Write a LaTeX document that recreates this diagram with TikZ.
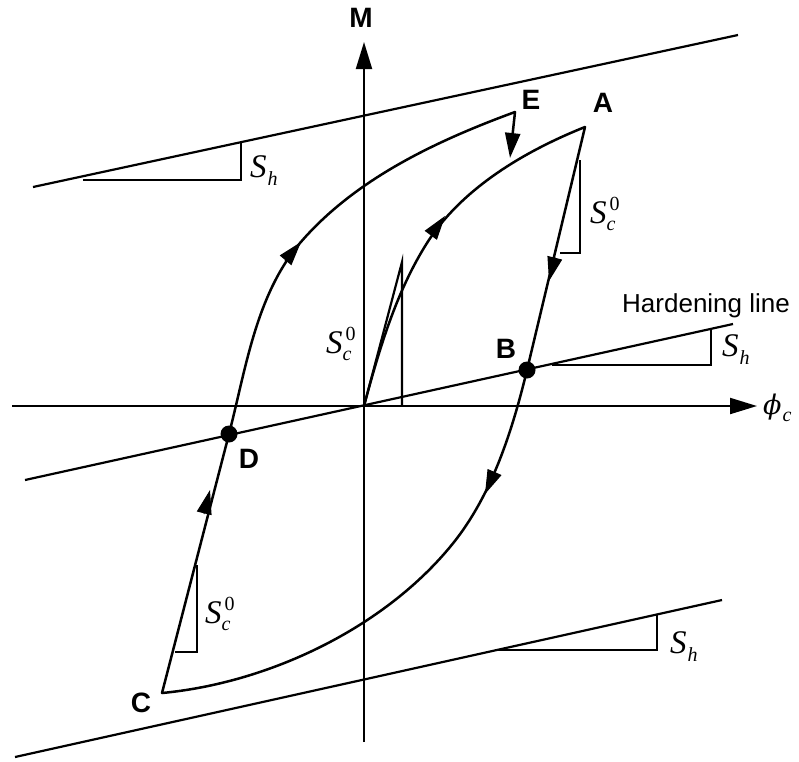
\documentclass[tikz,border=0pt]{standalone}
\usepackage{fontspec}
\setmainfont{Liberation Sans}
\newfontfamily\tms{Liberation Serif}
\newfontfamily\djv{DejaVu Serif}
\usetikzlibrary{arrows.meta}
\newcommand{\lblSh}{{\tms\itshape\fontsize{33}{33}\selectfont S\kern1pt\raisebox{-8pt}{\fontsize{20}{20}\selectfont h}}}
\newcommand{\lblSc}{{\tms\itshape\fontsize{33}{33}\selectfont S\rlap{\kern3pt\raisebox{13pt}{\upshape\fontsize{20}{20}\selectfont 0}}\raisebox{-7pt}{\fontsize{20}{20}\selectfont c}}}
\newcommand{\lblPhi}{{\djv\itshape\fontsize{27}{27}\selectfont ϕ}\kern1pt\raisebox{-7pt}{\tms\itshape\fontsize{20}{20}\selectfont c}}
\begin{document}
\begin{tikzpicture}[x=1pt,y=-1pt,
  crv/.style={line width=2.5pt,line cap=round,line join=round},
  ln/.style={line width=2.2pt},
  tri/.style={line width=2.2pt},
  ax/.style={line width=2pt,-{Triangle[length=27pt,width=16pt]}},
  ahd/.style={-{Triangle[length=24pt,width=15pt]}, line width=1pt},
  dot/.style={circle,fill,inner sep=0pt,minimum size=17pt},
  lbl/.style={font=\fontsize{28}{28}\selectfont\bfseries,inner sep=0pt},
  mlbl/.style={inner sep=0pt,anchor=base west}]
\useasboundingbox (0,0) rectangle (799,761);
% key points
\coordinate (O) at (364,406);
\coordinate (A) at (585,127);
\coordinate (B) at (527,370);
\coordinate (C) at (162,693);
\coordinate (D) at (229,434);
\coordinate (E) at (515,112);
\coordinate (Etip) at (510,158);
\coordinate (M1) at (300,243);
\coordinate (M2) at (427,243);
\coordinate (M3) at (450,547);
% axes
\coordinate (xs) at (12,406);
\coordinate (xe) at (757,406);
\coordinate (ys) at (364,742);
\coordinate (ye) at (364,42);
\draw[ax] (xs) -- (xe);
\draw[ax] (ys) -- (ye);
% hardening lines
\coordinate (h1) at (25,480);
\coordinate (h2) at (733,324);
\draw[ln] (h1) -- (h2);
\coordinate (t1) at (33,187);
\coordinate (t2) at (738,35);
\draw[ln] (t1) -- (t2);
\coordinate (b1) at (15,757);
\coordinate (b2) at (722,600);
\draw[ln] (b1) -- (b2);
% slope triangles S_h
\draw[tri] (83,180) -- (241,180) -- (241,142);
\draw[tri] (552,365) -- (711,365) -- (711,330);
\draw[tri] (498,650) -- (657,650) -- (657,614);
% slope triangles S_c^0
\draw[tri] (O) -- (402,262) -- (402,406);
\draw[tri] (580,160) -- (580,253) -- (560,253);
\draw[tri] (197,565) -- (197,652) -- (175,652);
% hysteresis curves
\draw[crv] (C) -- (D) .. controls (246,368) and (256,295) .. (M1)
  .. controls (355,179) and (436,141) .. (E);
\draw[crv,-{Triangle[length=25pt,width=15pt]}] (E) -- (Etip);
\draw[crv] (O) .. controls (379,350) and (396,292) .. (M2)
  .. controls (462,188) and (525,151) .. (A);
\draw[crv] (A) -- (B) .. controls (512,432) and (491,498) .. (M3)
  .. controls (382,629) and (268,683) .. (C);
% arrowheads on curves
\draw[ahd] (204,514) -- (210,490);
\draw[ahd] (285,261) -- (301,242);
\draw[ahd] (431,235) -- (445,216);
\draw[ahd] (555,257) -- (549,281);
\draw[ahd] (495,471) -- (485,494);
% dots
\node[dot] (Bd) at (B) {};
\node[dot] (Dd) at (D) {};
% labels
\node[lbl] (lM) at (361,18) {M};
\node[lbl] (lE) at (531,100) {E};
\node[lbl] (lA) at (603,103) {A};
\node[lbl] (lB) at (506,349) {B};
\node[lbl] (lC) at (141,703) {C};
\node[lbl] (lD) at (249,459) {D};
\node[inner sep=0pt,anchor=base west,font=\fontsize{26}{26}\selectfont] (lH) at (622,312) {Hardening line};
\node[mlbl] (lphi) at (763,414) {\lblPhi};
\node[mlbl] (sh1) at (250,177) {\lblSh};
\node[mlbl] (sh2) at (722,356) {\lblSh};
\node[mlbl] (sh3) at (670,653) {\lblSh};
\node[mlbl] (sc1) at (590,223) {\lblSc};
\node[mlbl] (sc2) at (326,353) {\lblSc};
\node[mlbl] (sc3) at (205,623) {\lblSc};
\end{tikzpicture}
\end{document}
